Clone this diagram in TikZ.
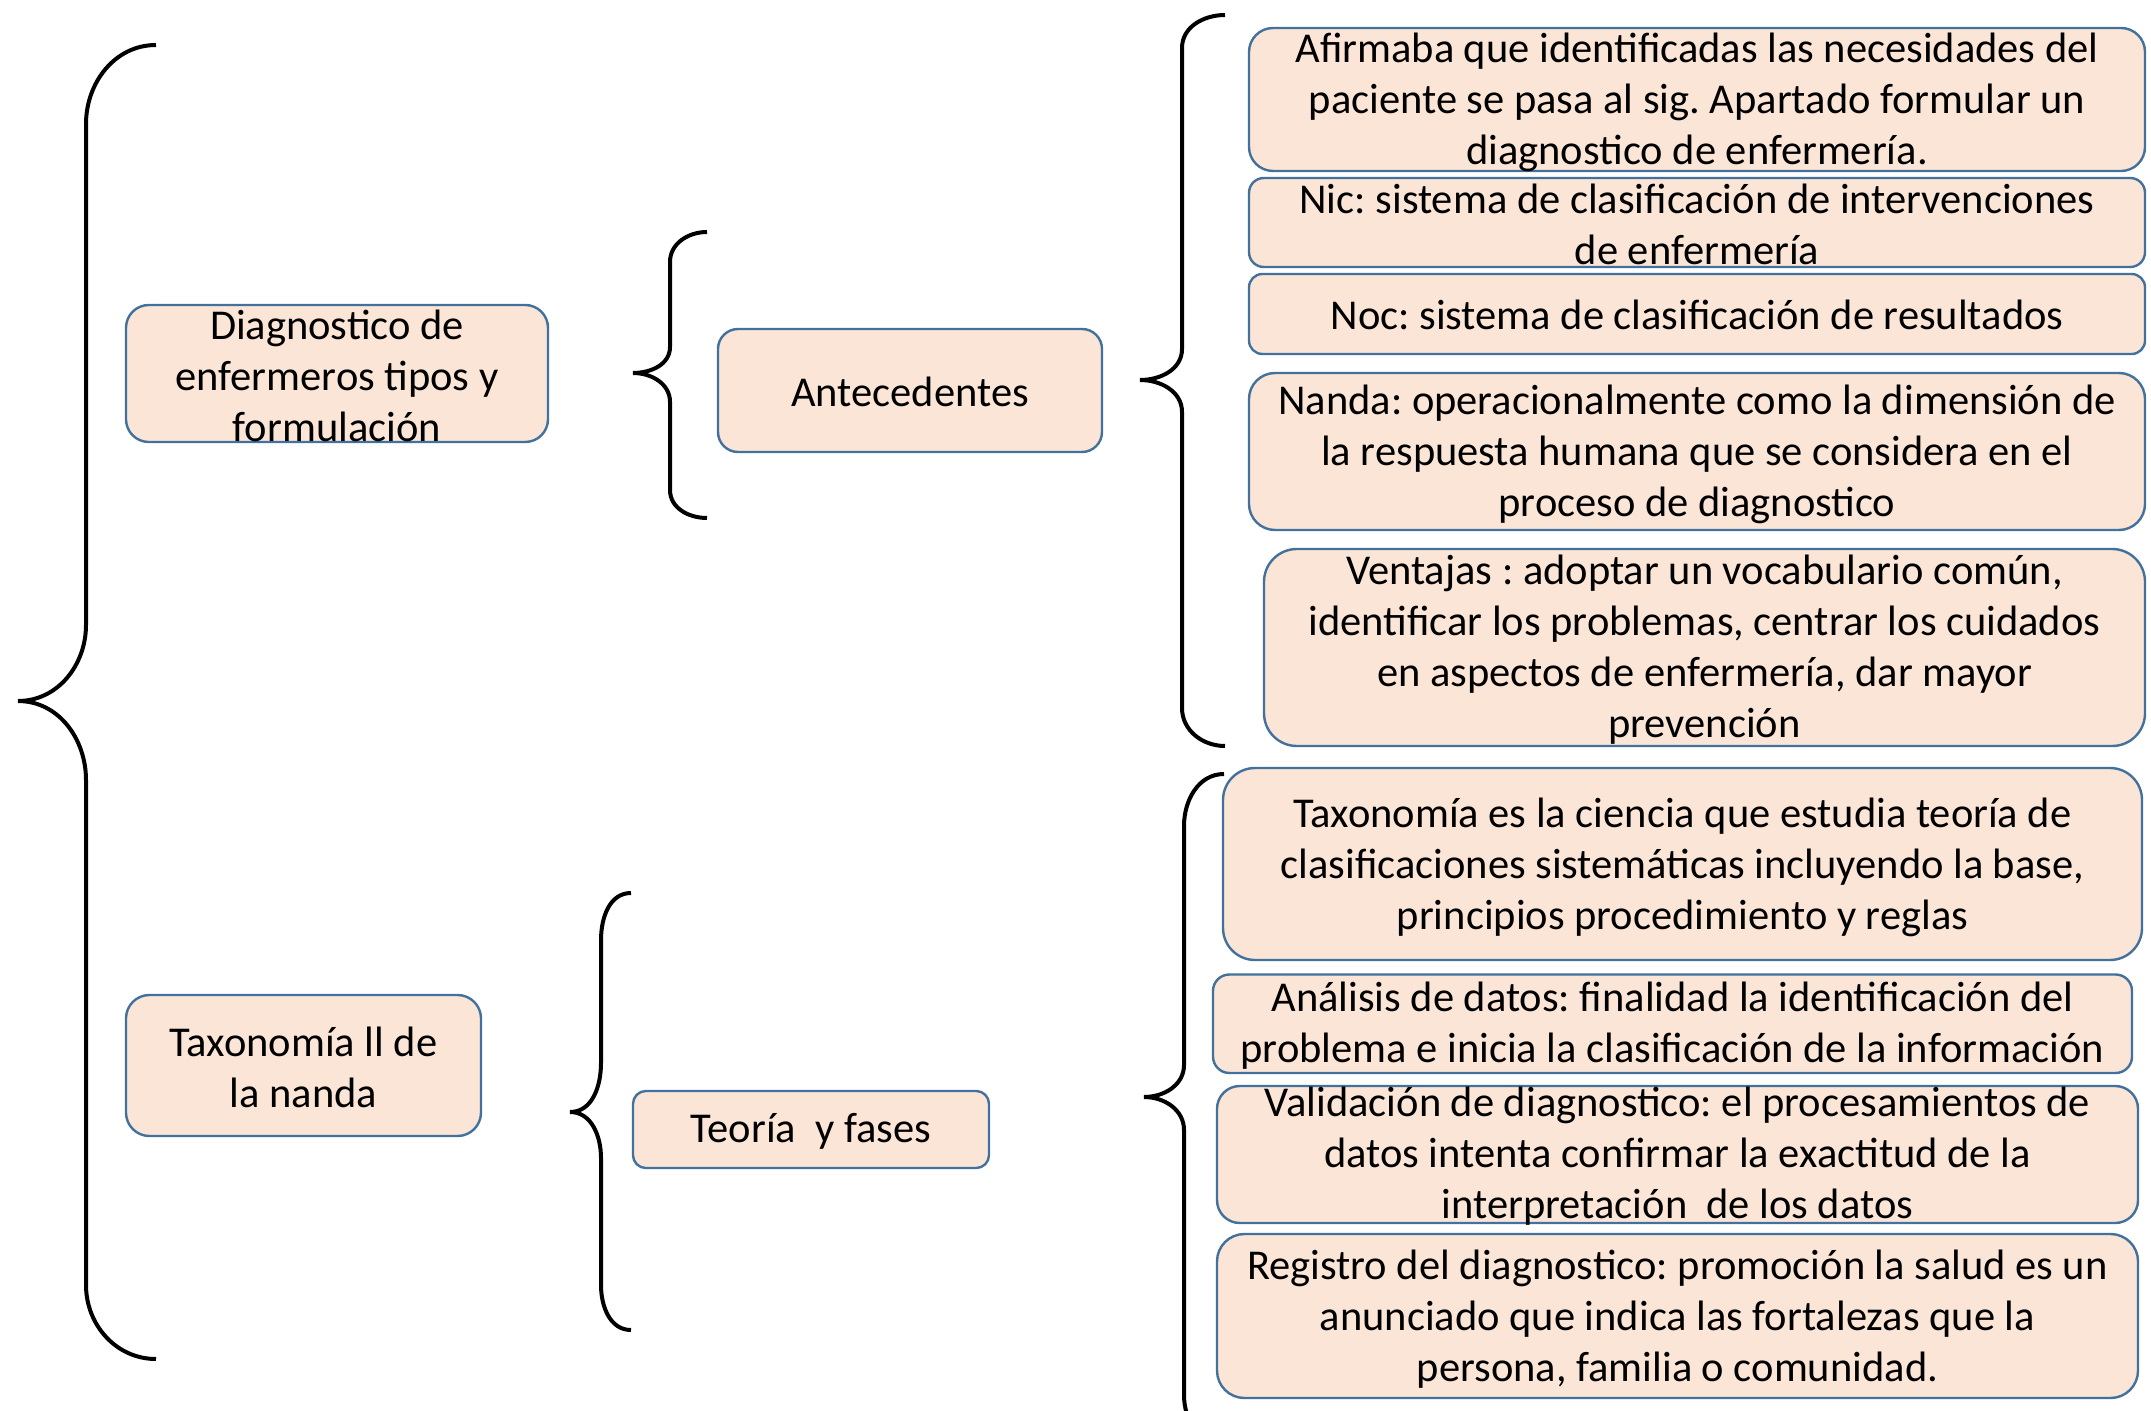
\documentclass[tikz,border=0pt]{standalone}
\usepackage{fontspec}
\setmainfont{Carlito}
\frenchspacing
\definecolor{boxfill}{HTML}{FBE5D6}
\definecolor{boxline}{HTML}{41719C}
\begin{document}
\begin{tikzpicture}[x=0.5pt,y=-0.5pt]
\tikzset{
 box/.style={draw=boxline, fill=boxfill, line width=1.2pt, inner sep=0pt, outer sep=0pt},
 txt/.style={align=center, inner sep=0pt, font=\fontsize{21.25pt}{25.5pt}\selectfont},
 brace/.style={draw=black, line width=2pt}
}
\useasboundingbox (0,0) rectangle (2151,1411);

% boxes
\node[box, minimum width=211pt, minimum height=68.5pt, rounded corners=11.4pt] (diag) at (337,373.5) {};
\node[box, minimum width=192pt, minimum height=61.5pt, rounded corners=10pt] (ante) at (910,390.5) {};
\node[box, minimum width=448pt, minimum height=71.5pt, rounded corners=12pt] (r1) at (1697,99.5) {};
\node[box, minimum width=448pt, minimum height=44.5pt, rounded corners=7.4pt] (r2) at (1697,222.5) {};
\node[box, minimum width=448pt, minimum height=40pt, rounded corners=6.7pt] (r3) at (1697,314) {};
\node[box, minimum width=448pt, minimum height=78.5pt, rounded corners=13pt] (r4) at (1697,451.5) {};
\node[box, minimum width=440.5pt, minimum height=98.5pt, rounded corners=16.4pt] (r5) at (1704.5,647.5) {};
\node[box, minimum width=177.5pt, minimum height=70.5pt, rounded corners=11.7pt] (tax) at (303.5,1065.5) {};
\node[box, minimum width=178pt, minimum height=38.5pt, rounded corners=6.4pt] (teo) at (811,1129.5) {};
\node[box, minimum width=459.5pt, minimum height=96pt, rounded corners=16pt] (t1) at (1682.5,864) {};
\node[box, minimum width=459.5pt, minimum height=49.25pt, rounded corners=8.2pt] (t2) at (1672.5,1023.75) {};
\node[box, minimum width=460.5pt, minimum height=68.5pt, rounded corners=11.4pt] (t3) at (1677.5,1154.5) {};
\node[box, minimum width=460.5pt, minimum height=82pt, rounded corners=13.7pt] (t4) at (1677.5,1316) {};

% texts
\node[txt] (diagt) at (337,376) {Diagnostico de\\enfermeros tipos y\\formulación};
\node[txt] (antet) at (910,392) {Antecedentes};
\node[txt] (r1t) at (1697,102) {Afirmaba que identificadas las necesidades del\\paciente se pasa al sig. Apartado formular un\\diagnostico de enfermería.};
\node[txt] (r2t) at (1697,224.5) {Nic: sistema de clasificación de intervenciones\\de enfermería};
\node[txt] (r3t) at (1697,315) {Noc: sistema de clasificación de resultados};
\node[txt] (r4t) at (1697,454) {Nanda: operacionalmente como la dimensión de\\la respuesta humana que se considera en el\\proceso de diagnostico};
\node[txt] (r5t) at (1704.5,650) {Ventajas : adoptar un vocabulario común,\\identificar los problemas, centrar los cuidados\\en aspectos de enfermería, dar mayor\\prevención};
\node[txt] (taxt) at (303.5,1067) {Taxonomía ll de\\la nanda};
\node[txt] (teot) at (811,1131) {Teoría~ y fases};
\node[txt] (t1t) at (1682.5,867.5) {Taxonomía es la ciencia que estudia teoría de\\clasificaciones sistemáticas incluyendo la base,\\principios procedimiento y reglas};
\node[txt] (t2t) at (1672.5,1025.5) {Análisis de datos: finalidad la identificación del\\problema e inicia la clasificación de la información};
\node[txt] (t3t) at (1677.5,1156) {Validación de diagnostico: el procesamientos de\\datos intenta confirmar la exactitud de la\\interpretación~ de los datos};
\node[txt] (t4t) at (1677.5,1319) {Registro del diagnostico: promoción la salud es un\\anunciado que indica las fortalezas que la\\persona, familia o comunidad.};

% braces
\draw[brace] (156,45) to[out=180,in=90] (86,124) -- (86,625) to[out=-90,in=0] (18,701) to[out=0,in=90] (86,780) -- (86,1285) to[out=-90,in=180] (156,1359);
\draw[brace] (707,232) to[out=180,in=90] (670,262) -- (670,347) to[out=-90,in=0] (633,373) to[out=0,in=90] (670,402) -- (670,490) to[out=-90,in=180] (707,518);
\draw[brace] (1225,15) to[out=180,in=90] (1182,48) -- (1182,349) to[out=-90,in=0] (1140,380) to[out=0,in=90] (1182,412) -- (1182,708) to[out=-90,in=180] (1225,746);
\draw[brace] (631,893) to[out=180,in=90] (601,940) -- (601,1063) to[out=-90,in=0] (570,1112) to[out=0,in=90] (601,1158) -- (601,1285) to[out=-90,in=180] (631,1330);
\draw[brace] (1224,774) to[out=180,in=90] (1184,826) -- (1184,1065) to[out=-90,in=0] (1144,1097) to[out=0,in=90] (1184,1130) -- (1184,1395) to[out=-90,in=180] (1224,1445);
\end{tikzpicture}
\end{document}
